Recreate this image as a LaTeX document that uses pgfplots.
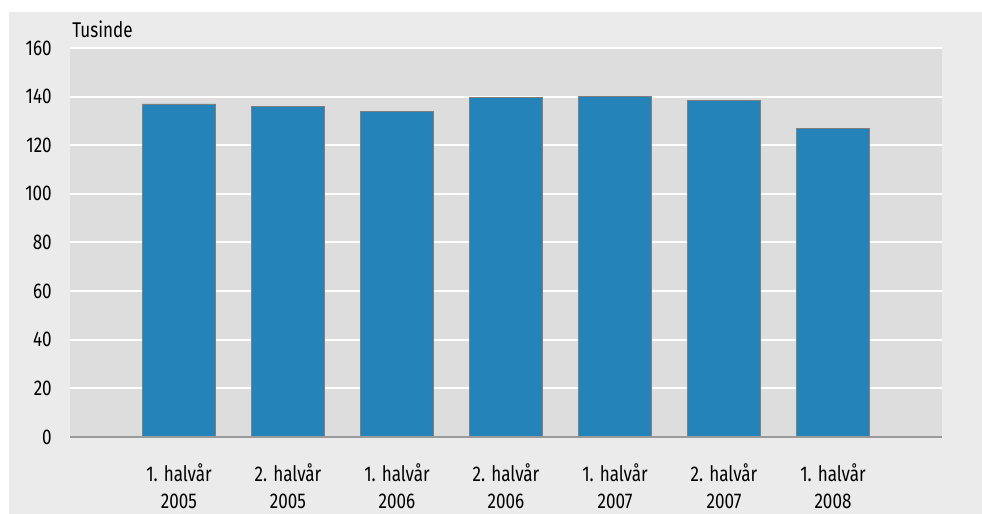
\documentclass[border=0pt]{standalone}
\usepackage{pgfplots}
\pgfplotsset{compat=1.18}
\usepackage{fontspec}
\setmainfont{Fira Sans}[FakeStretch=0.8]
\definecolor{outerbg}{HTML}{EBEBEB}
\definecolor{plotbg}{HTML}{DDDDDD}
\definecolor{barblue}{HTML}{2484B9}
\definecolor{baredge}{HTML}{7F7F7F}
\definecolor{axisgray}{HTML}{9A9A9A}

\begin{document}
\begin{tikzpicture}
% 1px = 0.75pt; axis box 872x389 px
\fill[outerbg] (-45.75pt,-57.75pt) rectangle (684pt,318.75pt);
\begin{axis}[
	scale only axis,
	width=654pt, height=291.75pt,
	xmin=0, xmax=8, ymin=0, ymax=160,
	ybar, bar width=54.75pt,
	axis background/.style={fill=plotbg},
	axis line style={draw=none},
	major tick length=0pt,
	ytick={0,20,...,160},
	ymajorgrids,
	grid style={white, line width=1.5pt},
	xtick={1,...,7},
	xticklabels={{1. halvår\\2005},{2. halvår\\2005},{1. halvår\\2006},{2. halvår\\2006},{1. halvår\\2007},{2. halvår\\2007},{1. halvår\\2008}},
	/pgf/number format/assume math mode=true,
	tick label style={font=\fontsize{16}{20.25}\selectfont, text=black},
	xticklabel style={align=center, anchor=north, inner sep=0pt, yshift=-19.5pt},
	yticklabel style={anchor=east, inner sep=0pt, xshift=-13.5pt},
	clip=false,
]
\addplot[fill=barblue, draw=baredge, line width=0.6pt] coordinates {
	(1,137.0) (2,136.0) (3,134.0) (4,139.7) (5,140.1) (6,138.3) (7,126.8)};
\draw[axisgray, line width=1pt] (axis cs:0,0) -- (axis cs:8,0);
\node[anchor=base west, inner sep=0pt, font=\fontsize{16}{18}\selectfont]
	at ([xshift=1.5pt, yshift=7.5pt]axis cs:0,160) {Tusinde};
\end{axis}
\pgfresetboundingbox
\path[use as bounding box] (-52.5pt,-57.75pt) rectangle (684pt,327.75pt);
\end{tikzpicture}
\end{document}
